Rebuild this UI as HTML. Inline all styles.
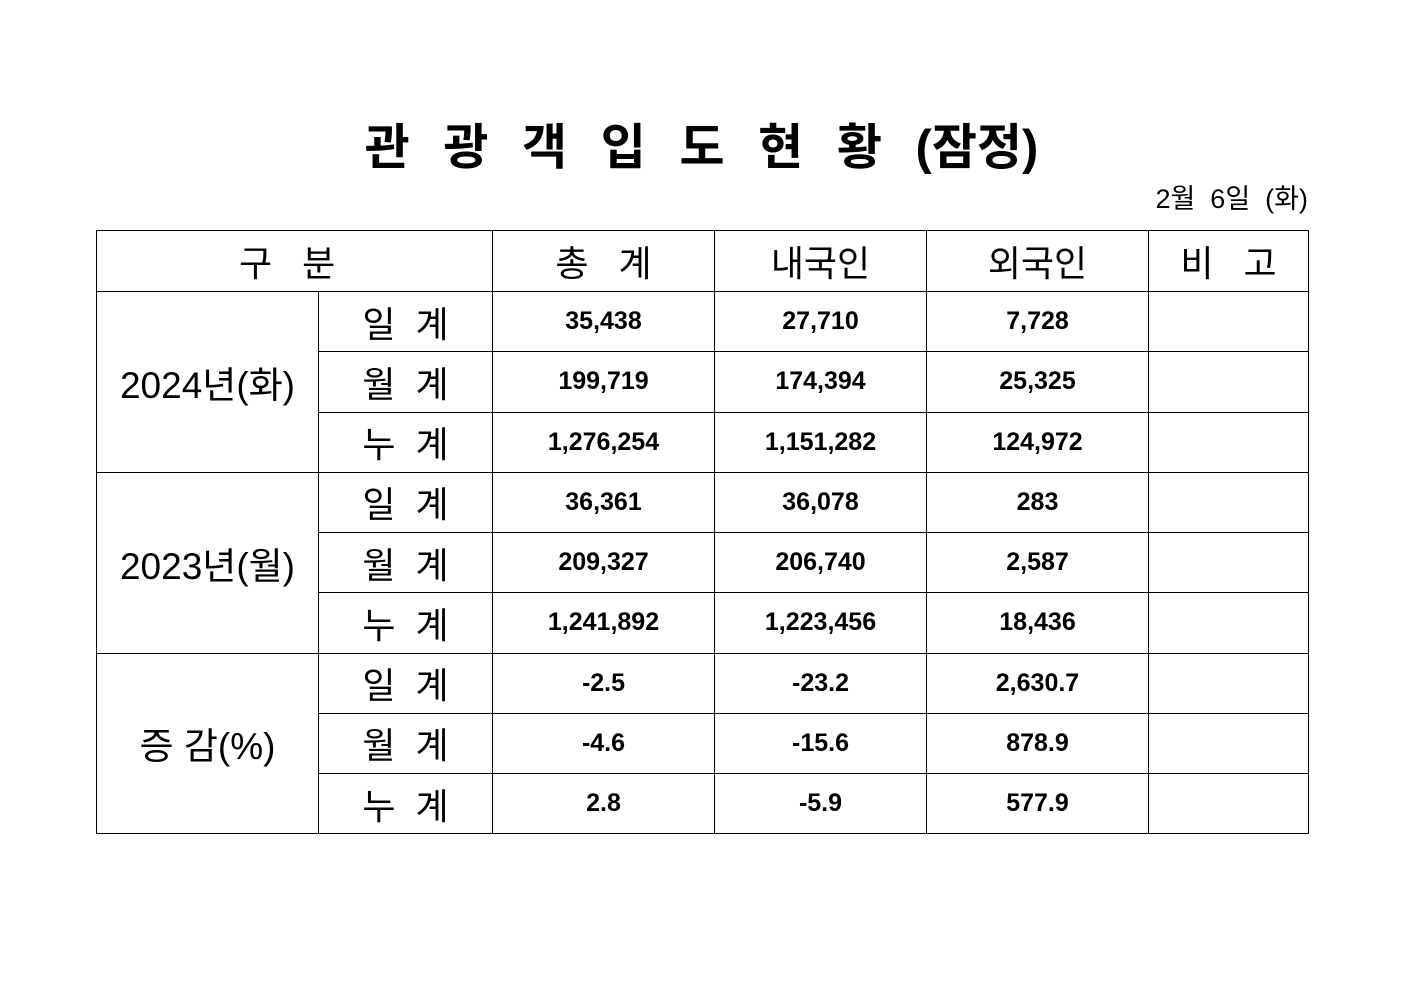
<!DOCTYPE html>
<html><head><meta charset="utf-8"><style>
body{margin:0;width:1403px;height:992px;background:#fff;position:relative;font-family:"Liberation Sans","Noto Sans CJK KR","NanumGothic",sans-serif;color:#000}
.t{position:absolute;left:0;width:1403px;top:108px;text-align:center;font-size:49px;font-weight:bold;letter-spacing:10px;white-space:pre}
.d{position:absolute;right:95px;top:177px;font-size:27px;white-space:pre}
table{position:absolute;left:96px;top:230px;border-collapse:collapse;table-layout:fixed}
td{border:1.5px solid #000;text-align:center;padding:0;height:59.25px}
.h{font-size:36px;height:60px}
.s{font-size:36px}
.n{font-size:25px;font-weight:bold}
.g{font-size:37px}
</style></head><body>
<div class="t">관 광 객 입 도 현 황 <span style="letter-spacing:0">(잠정)</span></div>
<div class="d">2월  6일  (화)</div>
<table>
<colgroup><col style="width:222px"><col style="width:174px"><col style="width:222px"><col style="width:212px"><col style="width:222px"><col style="width:160px"></colgroup>
<tr><td class="h" colspan="2" style="text-align:left;padding-left:142px">구&nbsp;&nbsp;&nbsp;분</td><td class="h">총&nbsp;&nbsp;&nbsp;계</td><td class="h">내국인</td><td class="h">외국인</td><td class="h">비&nbsp;&nbsp;&nbsp;고</td></tr>
<tr><td class="g" rowspan="3">2024년(화)</td><td class="s">일&nbsp;&nbsp;계</td><td class="n">35,438</td><td class="n">27,710</td><td class="n">7,728</td><td></td></tr>
<tr><td class="s">월&nbsp;&nbsp;계</td><td class="n">199,719</td><td class="n">174,394</td><td class="n">25,325</td><td></td></tr>
<tr><td class="s">누&nbsp;&nbsp;계</td><td class="n">1,276,254</td><td class="n">1,151,282</td><td class="n">124,972</td><td></td></tr>
<tr><td class="g" rowspan="3">2023년(월)</td><td class="s">일&nbsp;&nbsp;계</td><td class="n">36,361</td><td class="n">36,078</td><td class="n">283</td><td></td></tr>
<tr><td class="s">월&nbsp;&nbsp;계</td><td class="n">209,327</td><td class="n">206,740</td><td class="n">2,587</td><td></td></tr>
<tr><td class="s">누&nbsp;&nbsp;계</td><td class="n">1,241,892</td><td class="n">1,223,456</td><td class="n">18,436</td><td></td></tr>
<tr><td class="g" rowspan="3">증&nbsp;감(%)</td><td class="s">일&nbsp;&nbsp;계</td><td class="n">-2.5</td><td class="n">-23.2</td><td class="n">2,630.7</td><td></td></tr>
<tr><td class="s">월&nbsp;&nbsp;계</td><td class="n">-4.6</td><td class="n">-15.6</td><td class="n">878.9</td><td></td></tr>
<tr><td class="s">누&nbsp;&nbsp;계</td><td class="n">2.8</td><td class="n">-5.9</td><td class="n">577.9</td><td></td></tr>
</table>
</body></html>
